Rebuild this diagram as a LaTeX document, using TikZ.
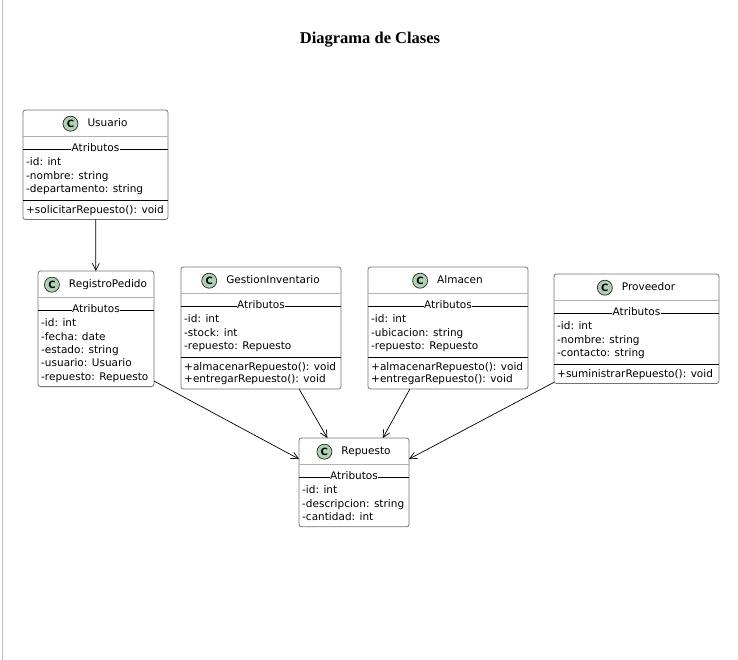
\documentclass[tikz,border=0pt]{standalone}
\usepackage{fontspec}
\setsansfont{DejaVu Sans}
\newfontfamily\titlefont{Liberation Serif}
\usetikzlibrary{positioning,arrows.meta}
\definecolor{spotgreen}{HTML}{ADD1B2}

\begin{document}
\begin{tikzpicture}[x=1pt,y=-1pt,
	classbox/.style={draw=black!55, fill=white, rounded corners=2.5pt, line width=0.8pt, inner sep=0pt, outer sep=0pt},
	spot/.style={circle, draw=black!85, fill=spotgreen, line width=0.7pt, minimum size=15pt, inner sep=0pt, font=\sffamily\bfseries\fontsize{10}{10}\selectfont},
	cname/.style={inner sep=0pt, font=\sffamily\fontsize{10.5}{12}\selectfont, text height=8pt, text depth=2.5pt},
	member/.style={anchor=west, inner sep=0pt, font=\sffamily\fontsize{10.5}{12}\selectfont, text height=8pt, text depth=2.5pt},
	seclabel/.style={fill=white, inner sep=0.6pt, font=\sffamily\fontsize{10.5}{12}\selectfont, text height=8pt, text depth=2.5pt},
	headline/.style={draw=black!30, line width=0.8pt},
	secline/.style={draw=black, line width=0.9pt},
	assoc/.style={draw=black, line width=0.7pt, -{Straight Barb[length=7pt,width=7pt]}}]
\useasboundingbox (0,0) rectangle (738,660);
\draw[black!25] (2,0) -- (2,660);
\node (title) at (370,40) {\titlefont\bfseries\fontsize{16.5}{20}\selectfont Diagrama de Clases};

% class boxes
\path (95.5,164.75) node[classbox, minimum width=145pt, minimum height=109.5pt] (usu) {}
		(96,328.8) node[classbox, minimum width=116pt, minimum height=115.6pt] (reg) {}
		(261,328) node[classbox, minimum width=160pt, minimum height=122pt] (gi) {}
		(448,328) node[classbox, minimum width=160pt, minimum height=122pt] (alm) {}
		(636.5,328.75) node[classbox, minimum width=165pt, minimum height=109.5pt] (prov) {}
		(354,482.4) node[classbox, minimum width=110pt, minimum height=88.8pt] (rep) {}
		;

% class names
\path (107.5,123.7) node[cname] (usu-n) {Usuario}
		(108,284.7) node[cname] (reg-n) {RegistroPedido}
		(273,280.7) node[cname] (gi-n) {GestionInventario}
		(460,280.7) node[cname] (alm-n) {Almacen}
		(648.5,287.7) node[cname] (prov-n) {Proveedor}
		(366,451.7) node[cname] (rep-n) {Repuesto}
		;
\node[spot, left=9pt of usu-n] (usu-c) {C};
\node[spot, left=9pt of reg-n] (reg-c) {C};
\node[spot, left=9pt of gi-n] (gi-c) {C};
\node[spot, left=9pt of alm-n] (alm-c) {C};
\node[spot, left=9pt of prov-n] (prov-c) {C};
\node[spot, left=9pt of rep-n] (rep-c) {C};

% separators
\draw[headline] (usu.west |- 0,136.3) -- (usu.east |- 0,136.3);
\draw[headline] (reg.west |- 0,297.3) -- (reg.east |- 0,297.3);
\draw[headline] (gi.west |- 0,293.3) -- (gi.east |- 0,293.3);
\draw[headline] (alm.west |- 0,293.3) -- (alm.east |- 0,293.3);
\draw[headline] (prov.west |- 0,300.3) -- (prov.east |- 0,300.3);
\draw[headline] (rep.west |- 0,464.3) -- (rep.east |- 0,464.3);

\draw[secline] (usu.west |- 0,149) -- (usu.east |- 0,149);
\draw[secline] (reg.west |- 0,310) -- (reg.east |- 0,310);
\draw[secline] (gi.west |- 0,306) -- (gi.east |- 0,306);
\draw[secline] (alm.west |- 0,306) -- (alm.east |- 0,306);
\draw[secline] (prov.west |- 0,313) -- (prov.east |- 0,313);
\draw[secline] (rep.west |- 0,477) -- (rep.east |- 0,477);

\draw[secline] (usu.west |- 0,200) -- (usu.east |- 0,200);
\draw[secline] (gi.west |- 0,357) -- (gi.east |- 0,357);
\draw[secline] (alm.west |- 0,357) -- (alm.east |- 0,357);
\draw[secline] (prov.west |- 0,364) -- (prov.east |- 0,364);

\path (usu |- 0,149) node[seclabel] (usu-s) {Atributos}
		(reg |- 0,310) node[seclabel] (reg-s) {Atributos}
		(gi |- 0,306) node[seclabel] (gi-s) {Atributos}
		(alm |- 0,306) node[seclabel] (alm-s) {Atributos}
		(prov |- 0,313) node[seclabel] (prov-s) {Atributos}
		(rep |- 0,477) node[seclabel] (rep-s) {Atributos}
		;

% members
\path (26,163) node[member] (usu-a1) {-id: int}
		(26,176.4) node[member] (usu-a2) {-nombre: string}
		(26,189.8) node[member] (usu-a3) {-departamento: string}
		(26,210.5) node[member] (usu-m1) {+solicitarRepuesto(): void}
		(41,324) node[member] (reg-a1) {-id: int}
		(41,337.4) node[member] (reg-a2) {-fecha: date}
		(41,350.8) node[member] (reg-a3) {-estado: string}
		(41,364.2) node[member] (reg-a4) {-usuario: Usuario}
		(41,377.6) node[member] (reg-a5) {-repuesto: Repuesto}
		(184,320) node[member] (gi-a1) {-id: int}
		(184,333.4) node[member] (gi-a2) {-stock: int}
		(184,346.8) node[member] (gi-a3) {-repuesto: Repuesto}
		(184,367.5) node[member] (gi-m1) {+almacenarRepuesto(): void}
		(184,380) node[member] (gi-m2) {+entregarRepuesto(): void}
		(371,320) node[member] (alm-a1) {-id: int}
		(371,333.4) node[member] (alm-a2) {-ubicacion: string}
		(371,346.8) node[member] (alm-a3) {-repuesto: Repuesto}
		(371,367.5) node[member] (alm-m1) {+almacenarRepuesto(): void}
		(371,380) node[member] (alm-m2) {+entregarRepuesto(): void}
		(557,327) node[member] (prov-a1) {-id: int}
		(557,340.4) node[member] (prov-a2) {-nombre: string}
		(557,353.8) node[member] (prov-a3) {-contacto: string}
		(557,374.5) node[member] (prov-m1) {+suministrarRepuesto(): void}
		(302,491) node[member] (rep-a1) {-id: int}
		(302,504.4) node[member] (rep-a2) {-descripcion: string}
		(302,517.8) node[member] (rep-a3) {-cantidad: int}
		;

% associations
\draw[assoc] (usu) -- (reg);
\draw[assoc] (reg.318) -- (rep.157);
\draw[assoc] (gi.302.6) -- (rep.121.3);
\draw[assoc] (alm.238.5) -- (rep.57.8);
\draw[assoc] (prov.213.5) -- (rep.23);
\end{tikzpicture}
\end{document}
